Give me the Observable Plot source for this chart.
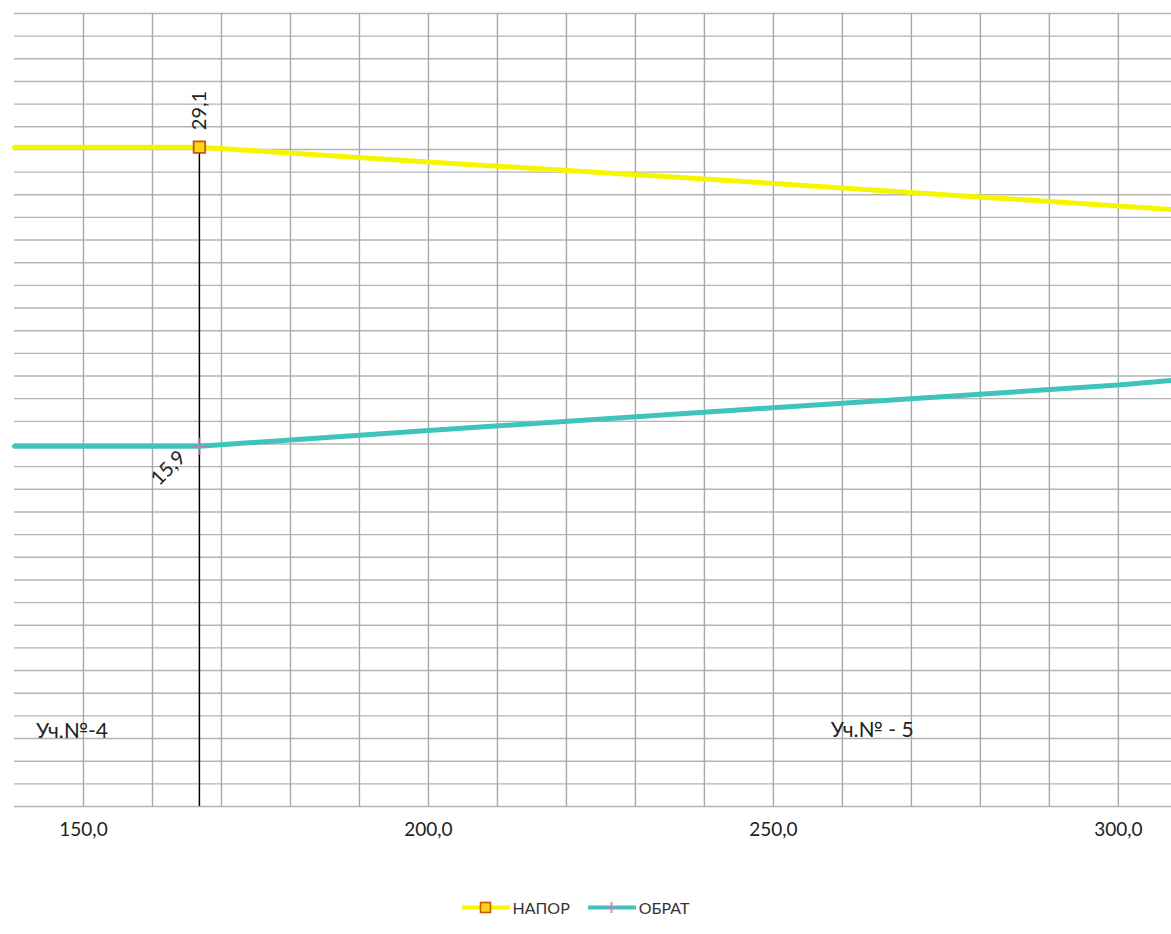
<!DOCTYPE html>
<html>
<head>
<meta charset="utf-8">
<script src="https://cdn.jsdelivr.net/npm/d3@7"></script>
<script src="https://cdn.jsdelivr.net/npm/@observablehq/plot@0.6"></script>
<style>
  html, body { margin: 0; padding: 0; background: #fff; }
  #chart svg { display: block; }
  #legend { display: flex; justify-content: center; align-items: center; gap: 18px;
    font-family: Lato, "Open Sans", sans-serif; font-size: 16px; color: #333;
    margin-top: 17px; margin-left: -20px; height: 20px; }
  #legend .item { display: flex; align-items: center; gap: 3px; }
</style>
</head>
<body>
<div id="chart"></div>
<div id="legend"></div>
<script>
// ---- data ----
const distance = [140, 166.8, 200, 250, 300, 307.7];
const napor    = [29.1, 29.1, 28.45, 27.5, 26.5, 26.35];
const obrat    = [15.9, 15.9, 16.6, 17.6, 18.6, 18.8];
const seriesNames = ["НАПОР", "ОБРАТ"];
const markerX = 166.8;
const markerNapor = 29.1;
const markerObrat = 15.9;
const xTickLabels = [150, 200, 250, 300];
const sectionLabels = [
  {x: 143.1, y: 3.3, text: "Уч.№-4"},
  {x: 258.3, y: 3.35, text: "Уч.№ - 5"}
];

const colNapor = "#f5f500";
const colObrat = "#3ec4bc";

const naporData = distance.map((d, i) => ({x: d, y: napor[i]}));
const obratData = distance.map((d, i) => ({x: d, y: obrat[i]}));
const fmt = v => v.toFixed(1).replace(".", ",");

const chart = Plot.plot({
  width: 1171,
  height: 880,
  marginLeft: 14,
  marginRight: 0,
  marginTop: 13,
  marginBottom: 74,
  style: {fontFamily: "Lato, 'Open Sans', sans-serif", background: "#fff"},
  x: {domain: [140, 307.7], label: null},
  y: {domain: [0, 35], axis: null, label: null},
  marks: [
    Plot.ruleY(d3.range(0, 36, 1), {stroke: "#b3b3b3", strokeWidth: 1.4, strokeOpacity: 1}),
    Plot.ruleX(d3.range(150, 301, 10), {y1: 0, y2: 35, stroke: "#a8a8a8", strokeWidth: 1.4, strokeOpacity: 1}),
    Plot.axisX({ticks: xTickLabels, tickFormat: fmt, tickSize: 0, tickPadding: 16, fontSize: 19, fill: "#222", label: null}),
    Plot.ruleX([markerX], {y1: 0, y2: markerNapor, stroke: "#000", strokeWidth: 1.5}),
    Plot.line(naporData, {x: "x", y: "y", stroke: colNapor, strokeWidth: 5}),
    Plot.line(obratData, {x: "x", y: "y", stroke: colObrat, strokeWidth: 5}),
    Plot.dot([{x: markerX, y: markerNapor}], {x: "x", y: "y", symbol: "square", r: 6.5, fill: "#ffd21a", stroke: "#c85a00", strokeWidth: 1.8}),
    Plot.dot([{x: markerX, y: markerObrat}], {x: "x", y: "y", symbol: "plus", r: 5.5, stroke: "#b882b6", strokeWidth: 2, strokeOpacity: 0.8}),
    Plot.text([{x: markerX, y: markerNapor}], {x: "x", y: "y", text: d => fmt(d.y), rotate: -90, textAnchor: "start", lineAnchor: "middle", dy: -17, fontSize: 20, fill: "#222"}),
    Plot.text([{x: markerX, y: markerObrat}], {x: "x", y: "y", text: d => fmt(d.y), rotate: -45, textAnchor: "end", lineAnchor: "middle", dx: -17, dy: 8, fontSize: 20, fill: "#222"}),
    Plot.text(sectionLabels, {x: "x", y: "y", text: "text", textAnchor: "start", fontSize: 21, fill: "#222"})
  ]
});
document.getElementById("chart").appendChild(chart);

// ---- legend ----
const legend = document.getElementById("legend");
const swatch = (color, kind) => {
  const s = kind === "square"
    ? `<rect x="18.5" y="4.5" width="10" height="10" fill="#ffd21a" stroke="#c85a00" stroke-width="1.6"/>`
    : `<path d="M23.5 4V15M18 9.5H29" stroke="#b882b6" stroke-width="2" opacity="0.8"/>`;
  return `<svg width="48" height="19"><line x1="0" x2="48" y1="9.5" y2="9.5" stroke="${color}" stroke-width="4"/>${s}</svg>`;
};
legend.innerHTML =
  `<div class="item">${swatch(colNapor, "square")}<span>${seriesNames[0]}</span></div>` +
  `<div class="item">${swatch(colObrat, "plus")}<span>${seriesNames[1]}</span></div>`;
</script>
</body>
</html>
